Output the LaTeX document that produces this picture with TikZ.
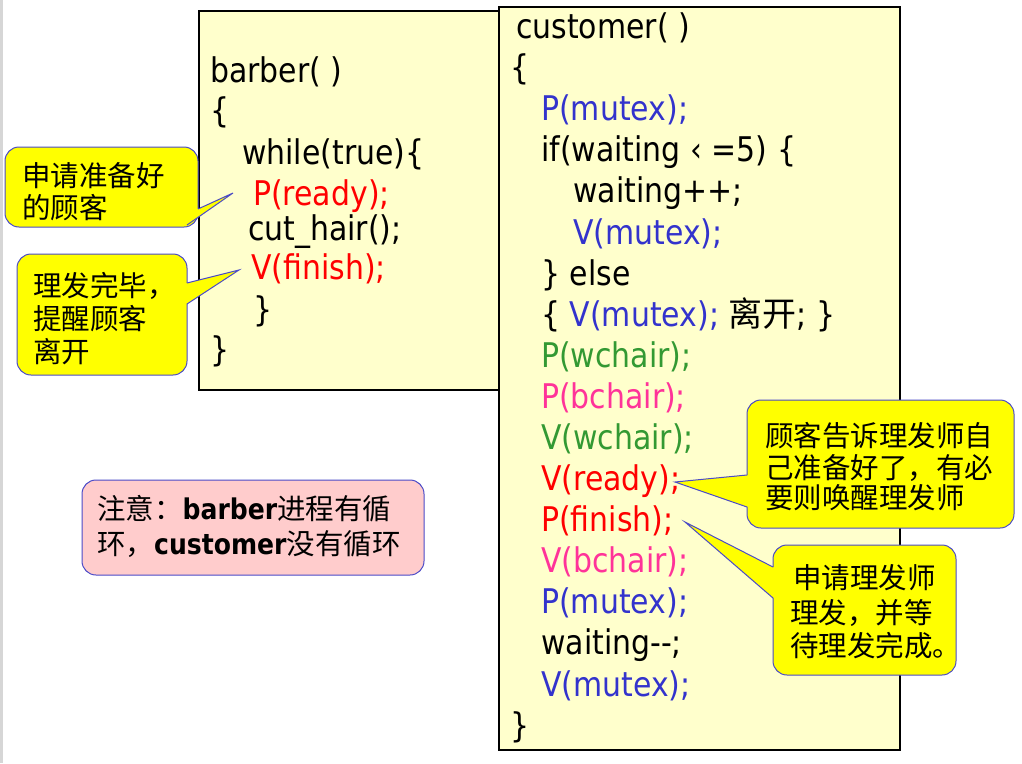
\documentclass[tikz,border=0pt]{standalone}
\usepackage{fontspec}
\setmainfont[FakeStretch=0.88]{DejaVu Sans}
\newfontfamily\cjk{Noto Sans CJK SC}
\definecolor{codeblue}{HTML}{3333CC}
\definecolor{codered}{HTML}{FF0000}
\definecolor{codegreen}{HTML}{339933}
\definecolor{codepink}{HTML}{FF3399}
\definecolor{paper}{HTML}{FFFFCC}
\definecolor{callfill}{HTML}{FFFF00}
\definecolor{calledge}{HTML}{4A4AC8}
\definecolor{notefill}{HTML}{FFCCCC}
\definecolor{stripgray}{HTML}{D6D6D6}
\tikzset{
  codebox/.style={draw=black, fill=paper, line width=1.4pt},
  callbox/.style={draw=calledge, fill=callfill, line width=1pt, rounded corners=14pt},
  calledgeline/.style={draw=calledge, line width=1pt, line join=miter},
  notebox/.style={draw=calledge, fill=notefill, line width=1pt, rounded corners=14pt},
  code/.style={anchor=base west, inner sep=0pt, font=\fontsize{34}{41}\selectfont},
  calltext/.style={anchor=base west, inner sep=0pt, font=\cjk\fontsize{28.5}{33}\selectfont},
}
\begin{document}
\begin{tikzpicture}[x=1pt,y=-1pt]
\useasboundingbox (0,0) rectangle (1022,763);
\fill[white] (0,0) rectangle (1022,763);
\fill[stripgray] (0,0) rectangle (3,763);

% code boxes
\path[codebox] (199,11) rectangle (500,390);
\path[codebox] (499,7) rectangle (900,750);

% barber code
\node[code] (b1) at (210,82) {barber( )};
\node[code] (b2) at (210,122) {\{};
\node[code] (b3) at (242,164) {while(true)\{};
\node[code, text=codered] (b4) at (253,205) {P(ready);};
\node[code] (b5) at (248,240) {cut\_hair();};
\node[code, text=codered] (b6) at (251,279) {V(finish);};
\node[code] (b7) at (253,321) {\}};
\node[code] (b8) at (210,361) {\}};

% customer code
\node[code] (k0) at (516,38) {customer( )};
\node[code] (k1) at (510,79) {\{};
\node[code, text=codeblue] (k2) at (541,120) {P(mutex);};
\node[code] (k3) at (541,161) {if(waiting ‹ =5) \{};
\node[code] (k4) at (573,202) {waiting++;};
\node[code, text=codeblue] (k5) at (573,244) {V(mutex);};
\node[code] (k6) at (541,285) {\} else};
\node[code] (k7) at (541,326) {\{ \textcolor{codeblue}{V(mutex);} {\cjk 离开}; \}};
\node[code, text=codegreen] (k8) at (541,367) {P(wchair);};
\node[code, text=codepink] (k9) at (541,408) {P(bchair);};
\node[code, text=codegreen] (k10) at (541,449) {V(wchair);};
\node[code, text=codered] (k11) at (541,490) {V(ready);};
\node[code, text=codered] (k12) at (541,531) {P(finish);};
\node[code, text=codepink] (k13) at (541,572) {V(bchair);};
\node[code, text=codeblue] (k14) at (541,613) {P(mutex);};
\node[code] (k15) at (541,654) {waiting{-}{-};};
\node[code, text=codeblue] (k16) at (541,696) {V(mutex);};
\node[code] (k17) at (510,737) {\}};

% callout 1
\coordinate (t1) at (233,193);
\path[callbox] (5,147) rectangle (198,227);
\fill[callfill] (198,209) -- (t1) -- (187,225) -- (180,215) -- (192,205) -- cycle;
\draw[calledgeline] (198,209) -- (t1) -- (187,225);
\node[calltext] (c1a) at (22,186) {申请准备好};
\node[calltext] (c1b) at (22,218) {的顾客};

% callout 2
\coordinate (t2) at (239,270);
\path[callbox] (17,254) rectangle (187,375);
\fill[callfill] (187,283) -- (t2) -- (187,304) -- (180,300) -- (180,286) -- cycle;
\draw[calledgeline] (187,283) -- (t2) -- (187,304);
\node[calltext] (c2a) at (33,296) {理发完毕，};
\node[calltext] (c2b) at (33,329) {提醒顾客};
\node[calltext] (c2c) at (33,362) {离开};

% callout 3
\coordinate (t3) at (675,482);
\path[callbox] (747,400) rectangle (1014,528);
\fill[callfill] (747,475) -- (t3) -- (747,507) -- (754,503) -- (754,479) -- cycle;
\draw[calledgeline] (747,475) -- (t3) -- (747,507);
\node[calltext] (c3a) at (765,446) {顾客告诉理发师自};
\node[calltext] (c3b) at (765,478) {己准备好了，有必};
\node[calltext] (c3c) at (765,508) {要则唤醒理发师};

% callout 4
\coordinate (t4) at (685,522);
\path[callbox] (773,545) rectangle (956,675);
\fill[callfill] (773,567) -- (t4) -- (773,598) -- (780,594) -- (780,571) -- cycle;
\draw[calledgeline] (773,567) -- (t4) -- (773,598);
\node[calltext] (c4a) at (793,588) {申请理发师};
\node[calltext] (c4b) at (790,623) {理发，并等};
\node[calltext] (c4c) at (790,656) {待理发完成。};

% note
\path[notebox] (82,480) rectangle (424,575);
\node[calltext] (n1) at (97,519) {注意：{\rmfamily\bfseries barber}进程有循};
\node[calltext] (n2) at (97,554) {环，{\rmfamily\bfseries customer}没有循环};
\end{tikzpicture}
\end{document}
